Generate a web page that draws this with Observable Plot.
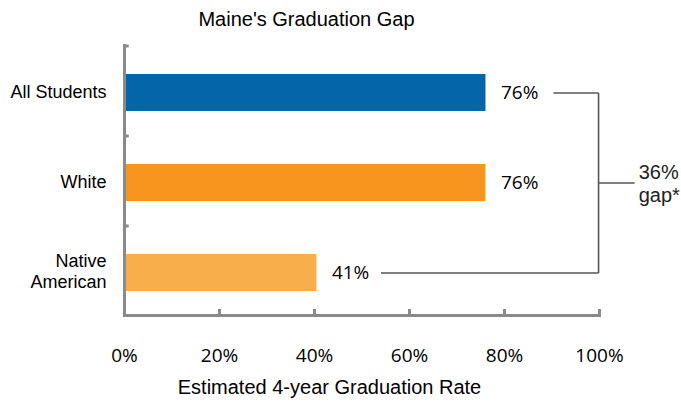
<!DOCTYPE html>
<html>
<head>
<meta charset="utf-8">
<script src="https://cdn.jsdelivr.net/npm/d3@7"></script>
<script src="https://cdn.jsdelivr.net/npm/@observablehq/plot@0.6"></script>
<style>
  html, body { margin: 0; padding: 0; background: #fff; overflow: hidden; }
  #title { width: 613px; height: 36px; box-sizing: border-box; padding-top: 8px; line-height: 28px;
           text-align: center; font: 20px "Liberation Sans", Arial, sans-serif; color: #000; }
  #xlabel { width: 659px; height: 26px; line-height: 24px; text-align: center;
            font: 20px "Liberation Sans", Arial, sans-serif; color: #000; }
</style>
</head>
<body>
<div id="title">Maine's Graduation Gap</div>
<div id="chart"></div>
<div id="xlabel">Estimated 4-year Graduation Rate</div>
<script>
// ---- data ----
const categories = ["All Students", "White", "Native American"];
const values = [76.1, 76.1, 40.5];           // estimated graduation rate (%)
const colors = ["#0465a9", "#f7961e", "#f9ae4c"];
const xTicks = [0, 20, 40, 60, 80, 100];
const gapLabel = "36%\ngap*";
// bracket annotation, in % units along x
const bracketTop = {from: 90.3, to: 99.8};
const bracketBottom = {from: 54.0, to: 99.8};
const bracketMid = {from: 99.8, to: 107.4};

const rows = categories.map((c, i) => ({category: c, value: values[i], color: colors[i]}));

const W = 681, H = 340, mTop = 9, mBottom = 61, mLeft = 124, mRight = 82;
const step = (H - mTop - mBottom) / categories.length;
const axisGray = "#8a8a8a";
const ink = "#555555";

const links = [
  {x1: bracketTop.from, x2: bracketTop.to, y1: categories[0], y2: categories[0]},
  {x1: bracketTop.to, x2: bracketBottom.to, y1: categories[0], y2: categories[2]},
  {x1: bracketMid.from, x2: bracketMid.to, y1: categories[1], y2: categories[1]},
  {x1: bracketBottom.from, x2: bracketBottom.to, y1: categories[2], y2: categories[2]}
];

const gapRows = [{label: gapLabel, x: bracketMid.to, category: categories[1]}];

const chart = Plot.plot({
  width: W,
  height: H,
  marginTop: mTop,
  marginBottom: mBottom,
  marginLeft: mLeft,
  marginRight: mRight,
  style: {fontFamily: "'Liberation Sans', Arial, sans-serif", background: "#fff", color: "#000"},
  x: {domain: [0, 100]},
  y: {domain: categories, paddingInner: 0.59, paddingOuter: 0.295},
  marks: [
    Plot.barX(rows, {x: "value", y: "category", fill: "color", dy: 2}),
    // axis lines
    Plot.frame({anchor: "left", stroke: axisGray, strokeWidth: 3, strokeLinecap: "square"}),
    Plot.frame({anchor: "bottom", stroke: axisGray, strokeWidth: 3, strokeLinecap: "square"}),
    // y boundary ticks
    Plot.ruleY(categories, {y: d => d, x1: 0, x2: 1, dy: -step / 2, stroke: axisGray, strokeWidth: 3}),
    Plot.axisX({
      ticks: xTicks, tickSize: -6, tickPadding: 39, stroke: axisGray, strokeWidth: 3,
      tickFormat: d => d + "%", label: null,
      fontSize: 19, fontFamily: "'Open Sans', sans-serif", fill: "#000"
    }),
    Plot.axisY({
      tickSize: 0, tickPadding: 18, label: null, fontSize: 18, fill: "#000",
      lineHeight: 1.17,
      tickFormat: d => d.replace(" American", "\nAmerican")
    }),
    Plot.text(rows, {
      x: "value", y: "category", text: d => Math.round(d.value) + "%",
      dx: 15, dy: 2, textAnchor: "start", fontSize: 19, fontFamily: "'Open Sans', sans-serif", fill: "#000"
    }),
    Plot.link(links, {x1: "x1", x2: "x2", y1: "y1", y2: "y2", stroke: ink, strokeWidth: 1.6, dy: 2}),
    Plot.text(gapRows, {
      x: "x", y: "category", text: "label", dx: 4, dy: 2,
      textAnchor: "start", fontSize: 20, lineHeight: 1.15, fill: "#222"
    })
  ]
});
document.getElementById("chart").appendChild(chart);
</script>
</body>
</html>
